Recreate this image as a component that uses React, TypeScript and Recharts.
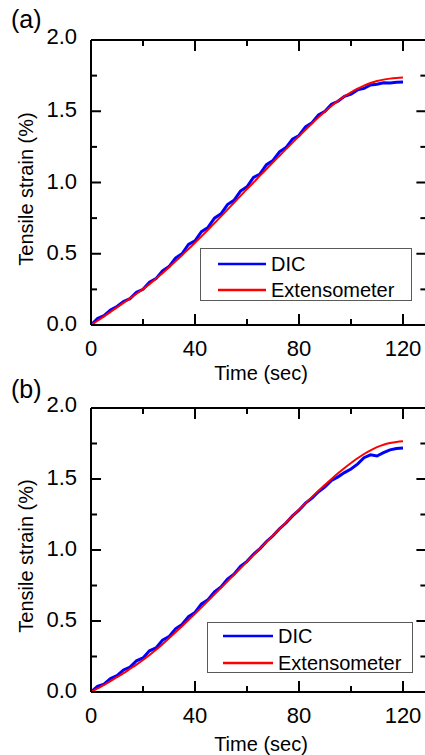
import React from 'react';
import { LineChart, Line, XAxis, YAxis, Legend } from 'recharts';

const TIME = [0, 2.5, 5, 7.5, 10, 12.5, 15, 17.5, 20, 22.5, 25, 27.5, 30, 32.5, 35, 37.5, 40, 42.5, 45, 47.5, 50, 52.5, 55, 57.5, 60, 62.5, 65, 67.5, 70, 72.5, 75, 77.5, 80, 82.5, 85, 87.5, 90, 92.5, 95, 97.5, 100, 102.5, 105, 107.5, 110, 112.5, 115, 117.5, 120];

const DIC_A = [0, 0.045, 0.065, 0.105, 0.13, 0.165, 0.185, 0.23, 0.25, 0.3, 0.325, 0.38, 0.41, 0.47, 0.5, 0.565, 0.59, 0.655, 0.685, 0.75, 0.78, 0.845, 0.875, 0.94, 0.97, 1.035, 1.06, 1.125, 1.155, 1.215, 1.245, 1.305, 1.33, 1.39, 1.42, 1.475, 1.5, 1.55, 1.57, 1.605, 1.62, 1.65, 1.66, 1.685, 1.69, 1.7, 1.698, 1.703, 1.705];
const EXT_A = [0, 0.03, 0.06, 0.092, 0.124, 0.155, 0.187, 0.219, 0.252, 0.287, 0.324, 0.364, 0.405, 0.447, 0.49, 0.533, 0.577, 0.622, 0.668, 0.715, 0.762, 0.81, 0.858, 0.906, 0.954, 1.0, 1.048, 1.095, 1.142, 1.188, 1.234, 1.28, 1.325, 1.37, 1.414, 1.457, 1.498, 1.537, 1.573, 1.605, 1.633, 1.658, 1.68, 1.698, 1.712, 1.722, 1.729, 1.734, 1.737];
const DIC_B = [0, 0.04, 0.055, 0.095, 0.115, 0.155, 0.175, 0.22, 0.24, 0.29, 0.31, 0.365, 0.39, 0.445, 0.475, 0.53, 0.56, 0.62, 0.65, 0.705, 0.74, 0.795, 0.83, 0.885, 0.92, 0.97, 1.01, 1.06, 1.1, 1.15, 1.19, 1.24, 1.28, 1.33, 1.365, 1.41, 1.445, 1.49, 1.515, 1.545, 1.57, 1.605, 1.65, 1.67, 1.662, 1.685, 1.705, 1.715, 1.718];
const EXT_B = [0, 0.025, 0.05, 0.077, 0.105, 0.133, 0.163, 0.193, 0.225, 0.26, 0.297, 0.337, 0.378, 0.42, 0.463, 0.507, 0.551, 0.596, 0.642, 0.688, 0.734, 0.78, 0.826, 0.872, 0.918, 0.964, 1.01, 1.056, 1.102, 1.148, 1.194, 1.24, 1.285, 1.33, 1.374, 1.417, 1.459, 1.5, 1.54, 1.578, 1.613, 1.646, 1.676, 1.702, 1.724, 1.741, 1.753, 1.761, 1.765];

const X_TICKS = [0, 20, 40, 60, 80, 100, 120];
const X_LABELS = [0, 40, 80, 120];
const Y_TICKS = [0, 0.25, 0.5, 0.75, 1, 1.25, 1.5, 1.75, 2];
const Y_LABELS = [0, 0.5, 1, 1.5, 2];
const SERIES_NAMES = ['DIC', 'Extensometer'];
const X_TITLE = 'Time (sec)';
const Y_TITLE = 'Tensile strain (%)';

const FONT = '"Liberation Sans", Arial, Helvetica, sans-serif';
const BLUE = '#0000ff';
const RED = '#ff0000';

const isMajorX = (v: number) => X_LABELS.includes(v);
const isMajorY = (v: number) => Y_LABELS.includes(v);

const BottomTick = (p: any) => {
  const v = p.payload.value;
  const major = isMajorX(v);
  return (
    <g>
      <line x1={p.x} x2={p.x} y1={p.y} y2={p.y - (major ? 11 : 6)} stroke="#000" strokeWidth={2} />
      {major && (
        <text x={p.x} y={p.y + 31} textAnchor="middle" fontSize={22} fontFamily={FONT} fill="#000">
          {v}
        </text>
      )}
    </g>
  );
};
const TopTick = (p: any) => {
  const major = isMajorX(p.payload.value);
  return <line x1={p.x} x2={p.x} y1={p.y} y2={p.y + (major ? 11 : 6)} stroke="#000" strokeWidth={2} />;
};
const LeftTick = (p: any) => {
  const v = p.payload.value;
  const major = isMajorY(v);
  return (
    <g>
      <line x1={p.x} x2={p.x + (major ? 10 : 6)} y1={p.y} y2={p.y} stroke="#000" strokeWidth={2} />
      {major && (
        <text x={p.x - 14} y={p.y + (v === 2 ? 4 : 6)} textAnchor="end" fontSize={22} fontFamily={FONT} fill="#000">
          {v.toFixed(1)}
        </text>
      )}
    </g>
  );
};
const RightTick = (p: any) => {
  const major = isMajorY(p.payload.value);
  return <line x1={p.x} x2={p.x - (major ? 10 : 6)} y1={p.y} y2={p.y} stroke="#000" strokeWidth={2} />;
};

type Geo = { left: number; top: number; width: number; height: number; lineY: number[]; lineX0: number; lineX1: number; textX: number };

const makeLegend = (g: Geo) => (props: any) => {
  const items = props.payload || [];
  return (
    <div
      style={{
        position: 'relative',
        width: g.width,
        height: g.height,
        border: '1px solid #5a5a5a',
        boxSizing: 'border-box',
        background: '#fff',
        fontFamily: FONT,
        fontSize: 20,
      }}
    >
      {items.map((it: any, i: number) => (
        <div key={i}>
          <svg style={{ position: 'absolute', left: 0, top: 0 }} width={g.width - 2} height={g.height - 2}>
            <line x1={g.lineX0} x2={g.lineX1} y1={g.lineY[i]} y2={g.lineY[i]} stroke={it.color} strokeWidth={2.5} />
          </svg>
          <div style={{ position: 'absolute', left: g.textX, top: g.lineY[i] - 12, lineHeight: '24px', color: '#000', whiteSpace: 'nowrap' }}>
            {it.value}
          </div>
        </div>
      ))}
    </div>
  );
};

type PanelProps = { top: number; height: number; mTop: number; mBottom: number; dic: number[]; ext: number[]; legend: Geo };

const Panel = ({ top, height, mTop, mBottom, dic, ext, legend }: PanelProps) => {
  const data = TIME.map((t, i) => ({ t, dic: dic[i], ext: ext[i] }));
  return (
    <div style={{ position: 'absolute', left: 0, top, width: 440, height }}>
      <LineChart width={440} height={height} data={data} margin={{ top: mTop, right: 12.6, bottom: mBottom, left: 90 }}>
        <XAxis dataKey="t" type="number" domain={[0, 129]} ticks={X_TICKS} allowDataOverflow height={1} tickSize={0} tickMargin={0} tickLine={false} tick={BottomTick} axisLine={{ stroke: '#000', strokeWidth: 2 }} interval={0} />
        <XAxis xAxisId="top" orientation="top" dataKey="t" type="number" domain={[0, 129]} ticks={X_TICKS} allowDataOverflow height={1} tickSize={0} tickMargin={0} tickLine={false} tick={TopTick} axisLine={{ stroke: '#000', strokeWidth: 2 }} interval={0} />
        <YAxis type="number" domain={[0, 2]} ticks={Y_TICKS} allowDataOverflow width={1} tickSize={0} tickMargin={0} tickLine={false} tick={LeftTick} axisLine={{ stroke: '#000', strokeWidth: 2 }} interval={0} />
        <YAxis yAxisId="right" orientation="right" type="number" domain={[0, 2]} ticks={Y_TICKS} allowDataOverflow width={1} tickSize={0} tickMargin={0} tickLine={false} tick={RightTick} axisLine={{ stroke: '#000', strokeWidth: 2 }} interval={0} />
        <Legend
          layout="vertical"
          align="center"
          verticalAlign="middle"
          content={makeLegend(legend)}
          wrapperStyle={{ left: legend.left, top: legend.top, width: legend.width, height: legend.height }}
        />
        <Line dataKey="dic" name={SERIES_NAMES[0]} stroke={BLUE} strokeWidth={3} dot={false} type="linear" isAnimationActive={false} />
        <Line dataKey="ext" name={SERIES_NAMES[1]} stroke={RED} strokeWidth={2} dot={false} type="monotone" isAnimationActive={false} />
      </LineChart>
    </div>
  );
};

export default function App() {
  return (
    <div style={{ position: 'absolute', left: 0, top: 0, width: 425, height: 755, overflow: 'hidden', background: '#fff' }}>
      <Panel
        top={0}
        height={378}
        mTop={39}
        mBottom={52}
        dic={DIC_A}
        ext={EXT_A}
        legend={{ left: 200, top: 248, width: 212, height: 53, lineY: [15, 41], lineX0: 17, lineX1: 65, textX: 70 }}
      />
      <Panel
        top={378}
        height={377}
        mTop={29}
        mBottom={62}
        dic={DIC_B}
        ext={EXT_B}
        legend={{ left: 207, top: 244, width: 206, height: 51, lineY: [13, 40], lineX0: 15, lineX1: 65, textX: 70 }}
      />
      <svg style={{ position: 'absolute', left: 0, top: 0, pointerEvents: 'none' }} width={425} height={755}>
        <g fontFamily={FONT} fill="#000">
          <text x={11} y={28} fontSize={25}>(a)</text>
          <text x={11} y={398} fontSize={25}>(b)</text>
          <text x={261} y={380} fontSize={20} textAnchor="middle">{X_TITLE}</text>
          <text x={261} y={751} fontSize={20} textAnchor="middle">{X_TITLE}</text>
          <text x={33} y={189} fontSize={20} textAnchor="middle" transform="rotate(-90 33 189)">{Y_TITLE}</text>
          <text x={33} y={556} fontSize={20} textAnchor="middle" transform="rotate(-90 33 556)">{Y_TITLE}</text>
        </g>
      </svg>
    </div>
  );
}
